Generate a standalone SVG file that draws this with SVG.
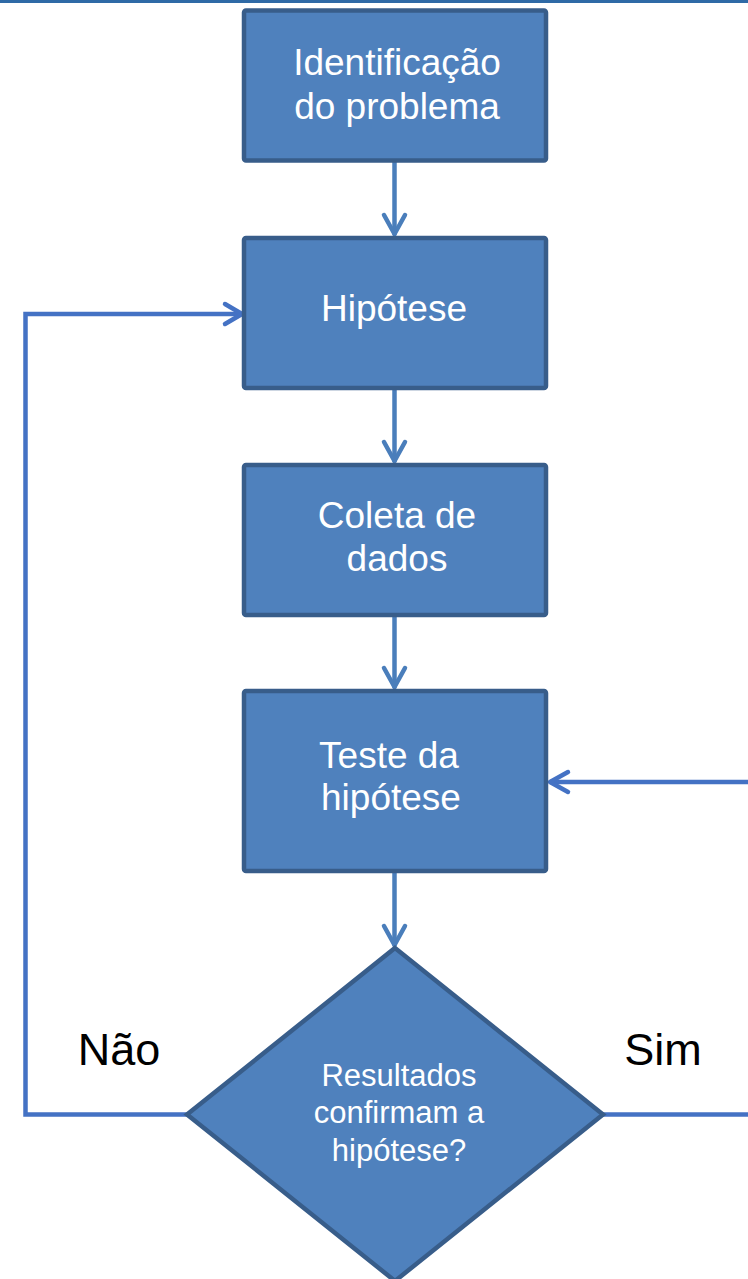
<svg xmlns="http://www.w3.org/2000/svg" width="748" height="1279" viewBox="0 0 748 1279">
<style>
.box{fill:#4f81bd;stroke:#385d8a;stroke-width:4.5}
.t{font-family:"Liberation Sans",Arial,sans-serif;fill:#ffffff;text-anchor:middle;font-size:37px}
.td{font-family:"Liberation Sans",Arial,sans-serif;fill:#ffffff;text-anchor:middle;font-size:31px}
.lbl{font-family:"Liberation Sans",Arial,sans-serif;fill:#000000;text-anchor:middle;font-size:45px}
.c{fill:none;stroke:#4a7ebb;stroke-width:4.5;stroke-linecap:round;stroke-linejoin:round}
.cl{fill:none;stroke:#4472c4;stroke-width:4.5;stroke-linejoin:miter}
.h{fill:none;stroke-width:4.5;stroke-linecap:round;stroke-linejoin:round}
</style>
<rect x="0" y="0" width="748" height="3" fill="#2f6aa6"/>
<g id="connectors">
  <path class="c" d="M394.5 161V234"/>
  <path class="h" stroke="#4a7ebb" d="M384 215L394.5 234L405 215"/>
  <path class="c" d="M394.5 388V461"/>
  <path class="h" stroke="#4a7ebb" d="M384 442L394.5 461L405 442"/>
  <path class="c" d="M394.5 615V687"/>
  <path class="h" stroke="#4a7ebb" d="M384 668L394.5 687L405 668"/>
  <path class="c" d="M394.5 871V945"/>
  <path class="h" stroke="#4a7ebb" d="M384 926L394.5 945L405 926"/>
  <path class="cl" d="M187 1114.5H25.5V314H240"/>
  <path class="h" stroke="#4472c4" d="M225 304L242 314L225 324"/>
  <path class="cl" d="M603 1114.5H750"/>
  <path class="cl" d="M750 782H550"/>
  <path class="h" stroke="#4472c4" d="M568 772L550 782L568 792"/>
</g>
<g id="n1">
  <rect class="box" x="244" y="10.5" width="302" height="150" rx="2"/>
  <text class="t" x="397" y="75">Identificação</text>
  <text class="t" x="397" y="119">do problema</text>
</g>
<g id="n2">
  <rect class="box" x="244" y="238" width="302" height="150" rx="2"/>
  <text class="t" x="394" y="321">Hipótese</text>
</g>
<g id="n3">
  <rect class="box" x="244" y="465" width="302" height="150" rx="2"/>
  <text class="t" x="397" y="528">Coleta de</text>
  <text class="t" x="397" y="571">dados</text>
</g>
<g id="n4">
  <rect class="box" x="244" y="691" width="302" height="180" rx="2"/>
  <text class="t" x="389" y="768">Teste da</text>
  <text class="t" x="391" y="810">hipótese</text>
</g>
<g id="n5">
  <polygon class="box" points="395,948 603,1114.5 395,1281 187,1114.5"/>
  <text class="td" x="399" y="1086">Resultados</text>
  <text class="td" x="399" y="1123">confirmam a</text>
  <text class="td" x="399" y="1161">hipótese?</text>
</g>
<g id="labels">
  <text class="lbl" x="119" y="1065">Não</text>
  <text class="lbl" x="663" y="1065">Sim</text>
</g>
</svg>
